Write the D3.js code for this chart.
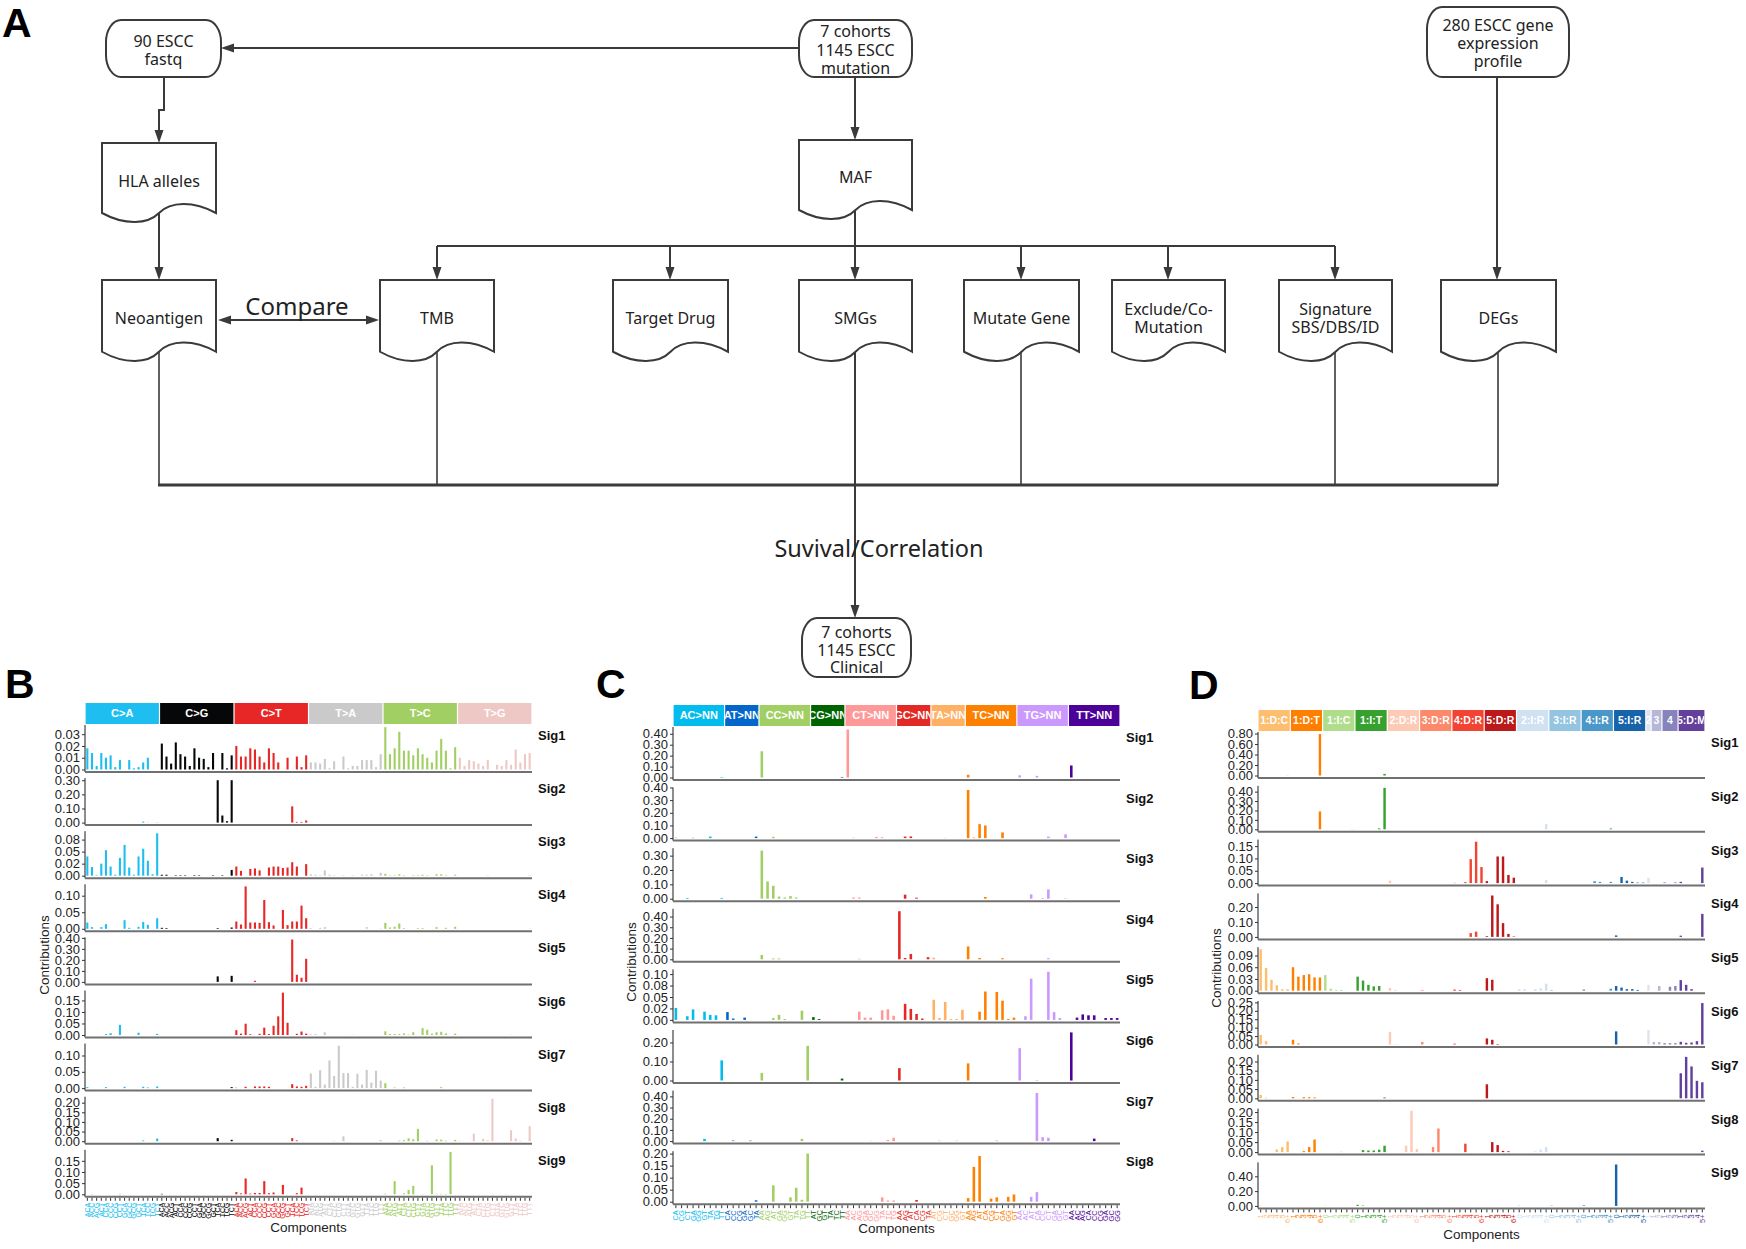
<!DOCTYPE html>
<html>
<head>
<meta charset="utf-8">
<script src="https://cdn.jsdelivr.net/npm/d3@7"></script>
<style>
body { margin: 0; background: #fff; }
svg { display: block; }
</style>
</head>
<body>
<div id="chart"></div>
<script>
// ---------- panel B : SBS96 signatures ----------
var sbsTypes = ['C>A', 'C>G', 'C>T', 'T>A', 'T>C', 'T>G'];
var sbsColors = ['#1ebff0', '#050708', '#e62725', '#cbcacb', '#a1cf64', '#edc8c5'];
var bases = ['A', 'C', 'G', 'T'];

var sbsSig1 = [
  0.018,0.014,0.003,0.014,0.010,0.012,0.002,0.008,0,0.008,0.001,0.002,0.006,0.010,0,0,
  0.022,0.011,0.005,0.023,0.013,0.011,0.003,0.018,0.010,0.009,0.002,0.014,0,0.014,0.001,0.012,
  0.020,0.011,0.011,0.018,0.017,0.011,0.006,0.018,0.014,0.006,0,0.010,0,0.011,0.002,0.012,
  0.006,0.006,0.005,0.009,0.001,0.007,0,0.011,0.001,0.003,0.003,0.008,0.008,0.008,0.002,0.013,
  0.036,0.013,0.018,0.032,0.016,0.016,0.012,0.018,0.013,0.010,0.006,0.016,0.026,0.016,0.001,0.019,
  0.010,0.003,0.008,0.007,0.005,0.003,0.008,0,0.004,0.003,0.008,0.004,0.017,0.006,0.013,0.014];
var sbsSig2 = [
  0,0,0,0,0,0,0,0,0,0,0,0,0.007,0.001,0,0.002,
  0,0,0,0,0,0,0,0,0,0,0,0,0.300,0.050,0.010,0.300,
  0,0,0,0,0,0,0,0,0,0,0,0,0.115,0.005,0.005,0.015,
  0,0,0,0,0,0,0,0,0,0,0,0,0,0,0,0,
  0,0,0,0,0,0,0,0,0,0,0,0,0,0,0,0,
  0,0,0,0,0,0,0,0,0,0,0,0,0,0,0,0];
var sbsSig3 = [
  0.040,0.018,0.001,0.025,0.053,0.019,0.002,0.037,0.064,0.017,0.002,0.040,0.056,0.031,0.003,0.088,
  0.002,0.002,0,0.001,0.001,0.001,0,0.001,0.001,0,0,0.001,0,0.001,0,0.012,
  0.019,0.010,0,0.014,0.015,0.011,0,0.017,0.019,0.019,0.016,0.017,0.028,0.019,0,0.024,
  0.003,0.002,0.001,0.011,0.002,0.001,0,0.001,0,0.001,0,0.002,0.002,0.003,0,0.006,
  0.004,0.001,0.001,0.003,0.001,0,0.001,0.001,0.002,0.001,0,0.003,0.003,0.001,0,0.002,
  0,0,0,0,0,0,0.001,0,0,0,0,0,0,0,0,0.001];
var sbsSig4 = [
  0.019,0.005,0,0.005,0.014,0,0,0,0.026,0.003,0,0.006,0.021,0.012,0,0.032,
  0.003,0.002,0,0,0,0,0,0,0,0,0,0,0.002,0,0,0.004,
  0.022,0.013,0.128,0.019,0.019,0.018,0.087,0.020,0.010,0,0.057,0.011,0.022,0.022,0.070,0.032,
  0.002,0,0.003,0.005,0,0,0,0,0,0,0,0,0.005,0,0,0.001,
  0.018,0.004,0.006,0.016,0.002,0,0,0.002,0.002,0,0,0.005,0,0.003,0,0.006,
  0,0,0,0,0,0,0,0,0,0,0,0,0,0,0,0.001];
var sbsSig5 = [
  0,0,0,0,0,0,0,0,0,0,0,0,0,0,0,0,
  0,0,0,0,0,0,0,0,0,0,0,0,0.050,0,0,0.055,
  0,0,0,0,0.010,0,0,0,0,0,0,0,0.385,0.065,0.038,0.210,
  0,0,0,0,0,0,0,0,0,0,0,0,0,0,0,0,
  0,0,0,0,0,0,0,0,0,0,0,0,0,0,0,0,
  0,0,0,0,0,0,0,0,0,0,0,0,0,0,0,0];
var sbsSig6 = [
  0,0,0,0,0.004,0.008,0,0.044,0,0,0,0.010,0,0,0,0.005,
  0,0,0,0,0,0,0,0,0,0,0,0,0,0,0,0,
  0.021,0.006,0.049,0.003,0,0.005,0.032,0.004,0.040,0.081,0.184,0.053,0,0.005,0.015,0.006,
  0.003,0.004,0,0.012,0,0,0,0,0,0.001,0,0,0,0,0,0,
  0.016,0.004,0.004,0.004,0.007,0.002,0.012,0,0.030,0.023,0.006,0.012,0.014,0.007,0,0.006,
  0,0,0,0,0,0,0,0,0,0,0,0.001,0,0,0,0];
var sbsSig7 = [
  0.003,0,0,0,0.003,0,0,0,0.004,0,0,0,0.004,0.002,0,0.005,
  0,0,0,0,0,0,0,0,0,0,0,0,0,0,0,0.003,
  0.001,0,0.004,0,0.005,0.005,0.005,0.004,0,0,0,0,0.012,0.005,0.004,0.007,
  0.045,0.004,0.055,0.011,0.085,0.037,0.130,0.046,0.046,0.004,0.044,0.011,0.056,0.017,0.053,0.023,
  0.015,0,0.002,0,0.002,0,0,0,0,0,0,0,0.003,0,0,0,
  0,0,0,0,0,0,0,0,0,0,0,0,0,0,0,0];
var sbsSig8 = [
  0,0,0,0,0,0,0,0,0,0,0,0,0.004,0,0,0.014,
  0,0,0,0,0,0,0,0,0,0,0,0,0.016,0,0,0.007,
  0,0,0,0,0,0,0,0,0,0,0,0,0.016,0.004,0,0,
  0,0,0,0,0,0.002,0,0.025,0,0,0,0,0,0,0,0.006,
  0,0,0,0.003,0.005,0.015,0.010,0.064,0,0.002,0,0.009,0.008,0.003,0,0.007,
  0.002,0,0,0.039,0,0.012,0.005,0.220,0,0,0,0.057,0.014,0.003,0,0.078];
var sbsSig9 = [
  0,0.001,0,0,0,0,0,0.002,0,0,0,0,0,0,0,0,
  0.002,0,0,0,0,0,0,0,0,0,0,0,0,0,0,0,
  0.010,0.004,0.071,0.003,0.006,0.006,0.059,0.005,0.008,0,0.042,0,0,0.005,0.030,0,
  0,0,0,0.001,0,0,0,0,0,0,0,0,0,0,0,0,
  0.003,0,0.059,0,0.004,0.020,0.038,0,0.001,0,0.130,0.002,0.002,0.002,0.190,0,
  0,0,0,0,0,0,0,0,0,0,0.002,0,0,0,0,0];
var sbsTicks = [[0,0.01,0.02,0.03],[0,0.1,0.2,0.3],[0,0.025,0.05,0.075],[0,0.05,0.1],
  [0,0.1,0.2,0.3,0.4],[0,0.05,0.1,0.15],[0,0.05,0.1],[0,0.05,0.1,0.15,0.2],[0,0.05,0.1,0.15]];
var sbsTickText = {2: ['0.00','0.02','0.05','0.08']};

// ---------- panel C : DBS78 signatures ----------
var dbsTypes = ['AC>NN','AT>NN','CC>NN','CG>NN','CT>NN','GC>NN','TA>NN','TC>NN','TG>NN','TT>NN'];
var dbsColors = ['#03bcee','#0266ca','#a1cf64','#006501','#ff9898','#e22925','#feb065','#fd8000','#cb98fd','#4c0199'];
var dbsAlts = [
  ['CA','CG','CT','GA','GG','GT','TA','TG','TT'],
  ['CA','CC','CG','GA','GC','TA'],
  ['AA','AG','AT','GA','GG','GT','TA','TG','TT'],
  ['AT','GC','GT','TA','TC','TT'],
  ['AA','AC','AG','GA','GC','GG','TA','TC','TG'],
  ['AA','AG','AT','CA','CG','TA'],
  ['AT','CG','CT','GC','GG','GT'],
  ['AA','AG','AT','CA','CG','CT','GA','GG','GT'],
  ['AA','AC','AT','CA','CC','CT','GA','GC','GT'],
  ['AA','AC','AG','CA','CC','CG','GA','GC','GG']];

var dbsSig1 = [
  0,0,0,0,0,0,0,0,0.005,
  0,0,0,0,0,0,
  0.240,0,0,0,0,0,0,0,0,
  0,0,0,0,0,0.005,
  0.440,0,0,0,0,0,0,0,0,
  0,0,0,0,0,0,
  0,0,0,0,0,0,
  0.025,0,0,0,0,0,0,0,0,
  0.020,0,0,0.015,0,0,0,0,0,
  0.110,0,0,0,0,0,0,0,0];
var dbsSig2 = [
  0.003,0,0,0.003,0,0,0.012,0,0,
  0,0,0,0,0,0.012,
  0,0,0.010,0,0,0,0,0,0,
  0,0,0,0,0,0,
  0,0.003,0,0,0,0.010,0.006,0,0,
  0,0.012,0.013,0,0,0,
  0,0,0.002,0,0,0,
  0.380,0.004,0.110,0.100,0,0,0.045,0,0,
  0,0,0,0,0,0.012,0,0,0.030,
  0,0,0,0,0,0,0,0,0];
var dbsSig3 = [
  0,0,0.005,0,0,0,0,0,0.005,
  0,0,0,0,0,0,
  0.335,0.120,0.090,0.015,0.008,0.018,0.008,0,0,
  0,0,0,0,0,0,
  0,0.008,0.008,0,0,0,0,0,0,
  0,0.028,0,0.007,0,0,
  0,0,0,0,0,0,
  0,0,0,0.012,0,0,0,0,0,
  0,0,0.030,0,0.005,0.065,0,0,0.003,
  0,0,0,0,0,0,0,0,0];
var dbsSig4 = [
  0,0,0,0,0,0,0,0,0,
  0,0,0,0,0,0,
  0.040,0,0.008,0.008,0,0,0,0,0,
  0,0,0,0,0,0,
  0,0,0.005,0,0,0,0,0,0,
  0.450,0.012,0.050,0,0,0.020,
  0.015,0,0,0,0,0,
  0.120,0,0.012,0,0,0,0.010,0,0,
  0,0,0,0,0,0.010,0,0,0,
  0,0,0,0,0,0,0,0,0];
var dbsSig5 = [
  0.026,0,0.008,0.023,0,0.018,0.011,0.010,0,
  0.017,0.003,0,0.005,0,0,
  0,0,0.004,0.011,0.002,0,0,0.020,0,
  0.006,0.002,0,0,0,0,
  0,0,0.018,0.005,0.005,0,0.021,0.023,0.009,
  0,0.035,0.024,0.013,0.003,0,
  0.044,0.004,0.039,0.002,0.002,0.022,
  0,0,0.018,0.062,0,0.061,0.042,0.002,0.005,
  0,0.008,0.090,0,0,0.105,0.017,0.004,0,
  0,0.005,0.012,0.010,0.010,0,0.004,0.004,0.004];
var dbsSig6 = [
  0,0,0,0,0,0,0,0,0.106,
  0,0,0,0,0,0,
  0.040,0,0,0,0,0,0,0,0.182,
  0,0,0,0,0,0.010,
  0,0,0,0,0,0,0,0,0,
  0.065,0,0,0,0,0,
  0,0,0,0,0,0,
  0.090,0,0,0,0,0,0,0,0,
  0.170,0,0,0.003,0,0,0,0,0,
  0.253,0,0,0,0,0,0,0,0];
var dbsSig7 = [
  0,0,0,0,0,0.020,0,0,0,
  0,0.005,0,0,0.004,0,
  0,0,0,0,0,0,0,0.020,0,
  0,0,0,0,0,0,
  0,0,0,0,0.002,0,0,0.010,0.030,
  0,0,0,0,0,0,
  0,0.004,0,0,0.004,0,
  0,0,0,0,0,0.004,0,0,0,
  0,0,0,0.430,0.035,0.030,0,0,0,
  0,0,0,0,0.022,0,0,0,0];
var dbsSig8 = [
  0,0,0,0,0,0,0,0,0,
  0,0,0,0,0,0.006,
  0,0,0.068,0,0,0.018,0.058,0.008,0.200,
  0,0,0,0,0,0,
  0,0,0,0,0,0,0.018,0.005,0.005,
  0,0,0,0.007,0,0,
  0,0,0,0,0,0,
  0.015,0.145,0.190,0,0.013,0.018,0,0.020,0.030,
  0,0,0.020,0.040,0,0,0,0,0,
  0,0,0,0,0,0,0,0,0];
var dbsTicks = [[0,0.1,0.2,0.3,0.4],[0,0.1,0.2,0.3,0.4],[0,0.1,0.2,0.3],[0,0.1,0.2,0.3,0.4],
  [0,0.025,0.05,0.075,0.1],[0,0.1,0.2],[0,0.1,0.2,0.3,0.4],[0,0.05,0.1,0.15,0.2]];
var dbsTickText = {4: ['0.00','0.02','0.05','0.08','0.10']};

// ---------- panel D : ID83 signatures ----------
var idHeads = ['1:D:C','1:D:T','1:I:C','1:I:T','2:D:R','3:D:R','4:D:R','5:D:R','2:I:R','3:I:R','4:I:R','5:I:R','2','3','4','5:D:M'];
var idSizes = [6,6,6,6,6,6,6,6,6,6,6,6,1,2,3,5];
var idColors = ['#fdbe6f','#ff8001','#b0dd8b','#36a12e','#fdcab5','#fc8a6a','#f14432','#bc191a',
  '#d0e1f2','#94c4df','#4a98c9','#1764ab','#e2e2ef','#b6b6d8','#8683bd','#62409b'];
var idDelLab = ['1','2','3','4','5','6+'];
var idInsLab = ['0','1','2','3','4','5+'];
var idMhLab = ['1','1','2','1','2','3','1','2','3','4','5+'];

var idSig1 = [
  0,0,0,0,0,0.005,  0,0,0,0,0,0.790,  0,0,0,0,0,0,  0,0,0,0,0,0.030,
  0,0,0,0,0,0,  0,0,0,0,0,0,  0,0,0,0,0,0,  0,0,0,0,0,0,
  0,0,0,0,0,0,  0,0,0,0,0,0,  0,0,0,0,0,0,  0,0,0,0,0,0,
  0,0,0,0,0,0,0,0,0,0,0];
var idSig2 = [
  0,0,0,0,0,0,  0,0,0,0,0,0.190,  0,0,0,0,0,0.003,  0,0,0,0,0.010,0.440,
  0,0,0,0,0,0,  0,0,0,0,0,0,  0,0,0,0,0,0,  0,0,0,0,0,0,
  0,0,0,0,0,0.055,  0,0,0,0,0,0,  0,0,0,0,0,0.010,  0,0,0,0,0,0,
  0,0,0,0,0,0,0,0,0,0,0];
var idSig3 = [
  0,0,0,0,0,0,  0,0,0,0,0,0,  0,0,0,0,0,0,  0,0,0,0,0,0,
  0.010,0,0,0,0,0,  0,0,0,0,0,0,  0.001,0,0.004,0.097,0.168,0.065,  0.008,0,0.108,0.108,0.033,0.022,
  0,0,0,0,0,0.012,  0,0,0,0,0,0,  0,0,0.008,0.005,0,0.005,  0,0.025,0.010,0.005,0.002,0.002,
  0.022,0,0,0.003,0,0.003,0.005,0,0,0,0.063];
var idSig4 = [
  0,0,0,0,0,0,  0,0,0,0,0,0,  0,0,0,0,0,0,  0,0,0,0,0,0,
  0,0,0,0,0,0,  0,0,0,0,0,0,  0,0,0,0.025,0.035,0,  0.005,0.277,0.218,0.092,0.020,0.003,
  0,0,0,0,0,0,  0,0,0,0,0,0,  0,0,0,0,0,0,  0.010,0,0,0,0,0,
  0,0,0,0,0,0,0.008,0,0,0,0.154];
var idSig5 = [
  0.106,0.058,0.028,0.014,0.004,0.004,  0.060,0.036,0.040,0.042,0.034,0.034,
  0.040,0.005,0.002,0.002,0,0,  0.036,0.026,0.015,0.011,0.012,0,
  0.007,0.002,0,0,0,0,  0.002,0,0,0,0,0,  0.003,0.002,0,0,0,0,  0.032,0.028,0,0,0,0,
  0.004,0.004,0,0.004,0.006,0.018,  0.002,0,0,0,0,0,  0.003,0,0,0,0,0.005,  0.012,0.008,0.004,0.004,0.002,0,
  0.015,0,0.012,0,0.010,0.012,0.027,0.015,0.004,0,0];
var idSig6 = [
  0.057,0.020,0,0,0,0,  0.028,0.006,0,0,0,0,  0,0,0,0,0,0,  0,0,0,0,0,0,
  0.074,0.002,0,0,0,0,  0.015,0,0,0,0,0,  0.005,0,0,0,0,0,  0.036,0.028,0.003,0,0,0,
  0,0,0,0,0,0,  0,0,0,0,0,0,  0,0,0,0,0,0,  0.078,0,0,0,0,0,
  0.086,0.015,0.015,0.008,0.008,0.008,0.016,0.010,0.012,0.020,0.246];
var idSig7 = [
  0.018,0.003,0,0,0,0,  0.007,0,0.006,0.006,0.005,0,  0,0,0,0,0,0,  0,0,0,0,0,0.005,
  0,0,0,0,0,0,  0,0,0,0,0,0,  0,0,0,0,0,0,  0.076,0,0,0,0,0,
  0,0,0,0,0,0,  0,0,0,0,0,0,  0,0,0,0,0,0,  0,0,0,0,0,0,
  0,0,0,0,0,0,0.136,0.225,0.173,0.095,0.087];
var idSig8 = [
  0,0,0,0.013,0.025,0.053,  0,0,0.005,0.025,0.063,0,  0,0,0,0.002,0,0,  0,0.010,0.008,0.008,0.012,0.032,
  0,0,0,0.032,0.207,0.015,  0,0,0.025,0.118,0,0,  0,0,0.042,0,0,0,  0,0.050,0.035,0.006,0.004,0,
  0,0,0,0.004,0.012,0.025,  0,0,0,0,0,0,  0,0,0,0,0,0,  0,0,0,0,0,0,
  0,0,0,0,0,0,0,0,0,0,0.007];
var idSig9 = [
  0.003,0,0,0,0,0,  0,0,0,0,0,0,  0.003,0,0,0,0,0,  0.015,0.006,0,0,0,0,
  0,0,0,0,0,0,  0,0,0,0,0,0,  0,0,0,0,0,0,  0,0,0,0,0,0,
  0.010,0,0,0,0,0,  0.008,0,0,0,0,0,  0.010,0,0,0,0,0,  0.560,0,0,0,0,0,
  0,0,0,0,0,0,0,0,0,0,0];
var idTicks = [[0,0.2,0.4,0.6,0.8],[0,0.1,0.2,0.3,0.4],[0,0.05,0.1,0.15],[0,0.1,0.2],[0,0.03,0.06,0.09],
  [0,0.05,0.1,0.15,0.2,0.25],[0,0.05,0.1,0.15,0.2],[0,0.05,0.1,0.15,0.2],[0,0.2,0.4]];

// ---------- flowchart text ----------
var flowTop = ['90 ESCC', 'fastq'];
var flowCohort = ['7 cohorts', '1145 ESCC', 'mutation'];
var flowExpr = ['280 ESCC gene', 'expression', 'profile'];
var flowClin = ['7 cohorts', '1145 ESCC', 'Clinical'];

var FF = "'Liberation Sans', Arial, sans-serif";
var FLOW = "'Noto Sans', 'Open Sans', sans-serif";
var ink = '#3a3a3a';

var svg = d3.select('#chart').append('svg')
  .attr('width', 1746).attr('height', 1249)
  .style('font-family', FF);
svg.append('rect').attr('width', 1746).attr('height', 1249).attr('fill', '#fff');

// panel letters
[['A', 2, 37], ['B', 5, 698], ['C', 596, 698], ['D', 1189, 699]].forEach(function (l) {
  svg.append('text').attr('x', l[1]).attr('y', l[2]).attr('font-size', 41)
    .attr('font-weight', 'bold').attr('fill', '#000').text(l[0]);
});

// ================= flowchart =================
var fc = svg.append('g').attr('font-family', FLOW);

function line(pts, w) {
  fc.append('path').attr('d', d3.line()(pts)).attr('fill', 'none')
    .attr('stroke', ink).attr('stroke-width', w || 2);
}
function head(x, y, dir) {
  var p;
  if (dir == 'down') p = [[x, y], [x - 4.5, y - 13], [x + 4.5, y - 13]];
  else if (dir == 'left') p = [[x, y], [x + 13, y - 4.5], [x + 13, y + 4.5]];
  else p = [[x, y], [x - 13, y - 4.5], [x - 13, y + 4.5]];
  fc.append('path').attr('d', d3.line()(p) + 'Z').attr('fill', ink);
}
function label(cx, ys, lines, fs) {
  lines.forEach(function (t, i) {
    fc.append('text').attr('x', cx).attr('y', ys[i]).attr('text-anchor', 'middle')
      .attr('font-size', fs || 16).attr('fill', '#222').text(t);
  });
}
function term(x0, y0, x1, y1, lines, ys) {
  fc.append('rect').attr('x', x0).attr('y', y0).attr('width', x1 - x0).attr('height', y1 - y0)
    .attr('rx', 15).attr('ry', 22).attr('fill', '#fff').attr('stroke', ink).attr('stroke-width', 2);
  label((x0 + x1) / 2, ys, lines);
}
function doc(x0, y0, x1, h, lines, ys) {
  var w = x1 - x0, b = y0 + h * 0.875;
  var d = 'M' + x0 + ',' + b + 'V' + y0 + 'H' + x1 + 'V' + b +
    'C' + (x0 + w * 0.8) + ',' + (y0 + h * 0.72) + ' ' + (x0 + w * 0.6) + ',' + (y0 + h * 0.73) + ' ' + (x0 + w * 0.5) + ',' + b +
    'C' + (x0 + w * 0.4) + ',' + (y0 + h * 1.02) + ' ' + (x0 + w * 0.2) + ',' + (y0 + h * 1.03) + ' ' + x0 + ',' + b + 'Z';
  fc.append('path').attr('d', d).attr('fill', '#fff').attr('stroke', ink).attr('stroke-width', 2);
  label((x0 + x1) / 2, ys, lines);
}

// connectors first
line([[799, 48], [230, 48]]); head(221, 48, 'left');
line([[164, 77], [164, 110], [159, 110], [159, 133]]); head(159, 143, 'down');
line([[855, 77], [855, 130]]); head(855, 140, 'down');
line([[855, 210], [855, 270]]);
line([[437, 246], [1335, 246]]);
[437, 670, 855, 1021, 1168, 1335].forEach(function (x) { line([[x, 246], [x, 270]]); head(x, 280, 'down'); });
line([[1497, 77], [1497, 270]]); head(1497, 280, 'down');
line([[159, 213], [159, 270]]); head(159, 280, 'down');
line([[228, 320], [369, 320]]); head(218, 320, 'left'); head(379, 320, 'right');
[159, 437, 1021, 1335, 1498].forEach(function (x) { line([[x, 352], [x, 485]], 1.6); });
line([[855, 352], [855, 608]]); head(855, 618, 'down');
line([[158, 485], [1498, 485]], 3);

// nodes
term(106, 20, 221, 77, flowTop, [47, 65]);
term(799, 20, 912, 77, flowCohort, [37, 56, 74]);
term(1427, 7, 1569, 77, flowExpr, [31, 49, 67]);
term(802, 618, 911, 677, flowClin, [638, 656, 673]);
doc(102, 143, 216, 80, ['HLA alleles'], [187]);
doc(799, 140, 912, 80, ['MAF'], [183]);
doc(102, 280, 216, 82, ['Neoantigen'], [324]);
doc(380, 280, 494, 82, ['TMB'], [324]);
doc(613, 280, 728, 82, ['Target Drug'], [324]);
doc(799, 280, 912, 82, ['SMGs'], [324]);
doc(964, 280, 1079, 82, ['Mutate Gene'], [324]);
doc(1112, 280, 1225, 82, ['Exclude/Co-', 'Mutation'], [315, 333]);
doc(1279, 280, 1392, 82, ['Signature', 'SBS/DBS/ID'], [315, 333]);
doc(1441, 280, 1556, 82, ['DEGs'], [324]);

fc.append('text').attr('x', 297).attr('y', 315).attr('text-anchor', 'middle')
  .attr('font-size', 24).attr('fill', '#222').text('Compare');
fc.append('text').attr('x', 879).attr('y', 557).attr('text-anchor', 'middle')
  .attr('font-size', 23.5).attr('fill', '#222').text('Suvival/Correlation');

// ================= signature panels =================
function sigPanel(o) {
  var n = o.labels.length;
  var grp = [];
  o.sizes.forEach(function (s, gi) { for (var k = 0; k < s; k++) grp.push(gi); });
  var x = d3.scaleBand().domain(d3.range(n)).range([o.x0, o.x1]).paddingInner(0.55).paddingOuter(0.275);
  var step = x.step();
  var g = svg.append('g').attr('font-family', FF);

  // strip header
  var start = 0;
  o.sizes.forEach(function (s, gi) {
    var a = o.x0 + start * step, b = o.x0 + (start + s) * step;
    var cid = o.id + 'clip' + gi;
    g.append('clipPath').attr('id', cid).append('rect')
      .attr('x', a + 0.6).attr('y', o.hy).attr('width', b - a - 1.2).attr('height', o.hh);
    g.append('rect').attr('x', a + 0.6).attr('y', o.hy).attr('width', b - a - 1.2).attr('height', o.hh)
      .attr('fill', o.colors[gi]);
    g.append('text').attr('clip-path', 'url(#' + cid + ')')
      .attr('x', (a + b) / 2).attr('y', o.hy + o.hh / 2 + o.hfs * 0.36)
      .attr('text-anchor', 'middle').attr('font-size', o.hfs).attr('font-weight', 'bold')
      .attr('fill', '#fff').text(o.heads[gi]);
    start += s;
  });

  o.sigs.forEach(function (vals, si) {
    var top = o.top + si * o.pitch, base = top + o.ph;
    var y = d3.scaleLinear().domain([0, d3.max(vals) * 1.05]).range([base - 1.5, top]);

    g.append('g').selectAll('rect').data(vals).join('rect')
      .attr('x', function (d, i) { return x(i); })
      .attr('y', function (d) { return y(d); })
      .attr('width', x.bandwidth())
      .attr('height', function (d) { return y(0) - y(d); })
      .attr('fill', function (d, i) { return o.colors[grp[i]]; });

    var fmt = o.tickText[si];
    var ay = g.append('g').attr('transform', 'translate(' + o.x0 + ',0)')
      .call(d3.axisLeft(y).tickValues(o.ticks[si]).tickSize(3).tickSizeOuter(0).tickPadding(2)
        .tickFormat(function (d, i) { return fmt ? fmt[i] : d3.format('.2f')(d); }));
    ay.attr('font-family', FF).attr('font-size', 13);
    ay.select('.domain').attr('d', 'M0,' + top + 'V' + (base + 1)).attr('stroke', '#1a1a1a');
    ay.selectAll('.tick line').attr('stroke', '#333');
    ay.selectAll('.tick text').attr('fill', '#222');

    g.append('line').attr('x1', o.x0).attr('x2', o.x1).attr('y1', base + 1).attr('y2', base + 1)
      .attr('stroke', '#707070').attr('stroke-width', 2);
    g.append('text').attr('x', o.x1 + 6).attr('y', top + 15).attr('font-size', 13)
      .attr('font-weight', 'bold').attr('fill', '#111').text('Sig' + (si + 1));

    if (si === o.sigs.length - 1) {
      var axb = g.append('g').attr('transform', 'translate(0,' + (base + 2) + ')')
        .call(d3.axisBottom(x).tickSize(3).tickSizeOuter(0)
          .tickFormat(function (i) { return o.labels[i]; }));
      axb.select('.domain').remove();
      axb.selectAll('.tick line').attr('stroke', '#333');
      axb.selectAll('.tick text').attr('transform', 'rotate(-90)').attr('text-anchor', 'end')
        .attr('x', -5).attr('y', 0).attr('dy', '0.35em').attr('font-size', o.lfs)
        .attr('font-family', FF)
        .attr('fill', function (i) { return o.colors[grp[i]]; });
      g.append('text').attr('x', (o.x0 + o.x1) / 2).attr('y', o.compY).attr('text-anchor', 'middle')
        .attr('font-size', 13.5).attr('fill', '#222').text('Components');
    }
  });

  g.append('text').attr('transform', 'translate(' + o.contrX + ',' + o.contrY + ') rotate(-90)')
    .attr('text-anchor', 'middle').attr('dy', '0.35em').attr('font-size', 13.5)
    .attr('fill', '#222').text('Contributions');
}

var sbsLabels = [];
sbsTypes.forEach(function (t) {
  bases.forEach(function (l) { bases.forEach(function (r) { sbsLabels.push(l + t[0] + r); }); });
});
var dbsLabels = [];
dbsAlts.forEach(function (a) { a.forEach(function (s) { dbsLabels.push(s); }); });
var idLabels = [];
idHeads.forEach(function (h, gi) {
  if (gi >= 12) return;
  var isIns = (gi === 2 || gi === 3 || (gi >= 8 && gi <= 11));
  (isIns ? idInsLab : idDelLab).forEach(function (s) { idLabels.push(s); });
});
idMhLab.forEach(function (s) { idLabels.push(s); });

sigPanel({
  id: 'pb', x0: 85, x1: 532, hy: 703, hh: 21, hfs: 11, top: 725, pitch: 53.1, ph: 46,
  sizes: [16, 16, 16, 16, 16, 16], heads: sbsTypes, colors: sbsColors, labels: sbsLabels,
  sigs: [sbsSig1, sbsSig2, sbsSig3, sbsSig4, sbsSig5, sbsSig6, sbsSig7, sbsSig8, sbsSig9],
  ticks: sbsTicks, tickText: sbsTickText, lfs: 7, compY: 1232, contrX: 44, contrY: 955
});
sigPanel({
  id: 'pc', x0: 673, x1: 1120, hy: 705, hh: 21, hfs: 11, top: 727, pitch: 60.6, ph: 52,
  sizes: [9, 6, 9, 6, 9, 6, 6, 9, 9, 9], heads: dbsTypes, colors: dbsColors, labels: dbsLabels,
  sigs: [dbsSig1, dbsSig2, dbsSig3, dbsSig4, dbsSig5, dbsSig6, dbsSig7, dbsSig8],
  ticks: dbsTicks, tickText: {4: dbsTickText[4]}, lfs: 7.5, compY: 1233, contrX: 631, contrY: 962
});
sigPanel({
  id: 'pd', x0: 1258, x1: 1705, hy: 710, hh: 21, hfs: 10.5, top: 732, pitch: 53.8, ph: 45,
  sizes: idSizes, heads: idHeads, colors: idColors, labels: idLabels,
  sigs: [idSig1, idSig2, idSig3, idSig4, idSig5, idSig6, idSig7, idSig8, idSig9],
  ticks: idTicks, tickText: {}, lfs: 7.5, compY: 1239, contrX: 1216, contrY: 968
});
</script>
</body>
</html>
